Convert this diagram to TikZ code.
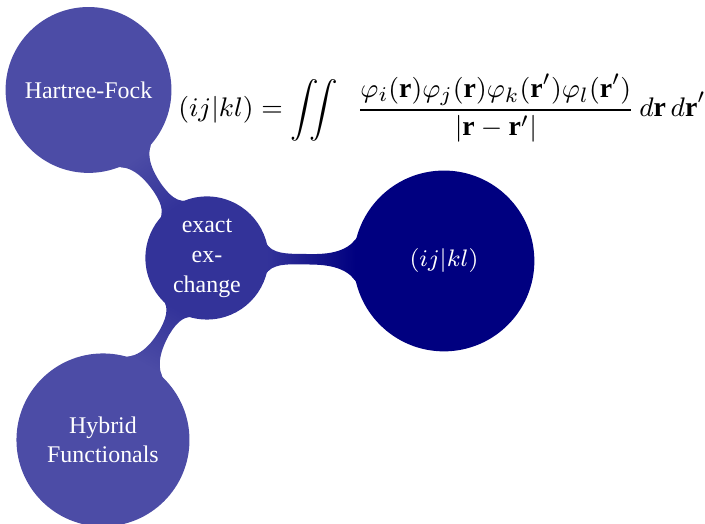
\documentclass[tikz,border=0pt]{standalone}
\usepackage{fontspec}
\setmainfont{Liberation Serif}
\usepackage{amsmath,amssymb}
\usetikzlibrary{mindmap,positioning}

\definecolor{navy}{RGB}{0,0,128}

\tikzset{
  topic/.style={concept,text=white,font=\footnotesize,inner sep=0pt},
}

\begin{document}
\begin{tikzpicture}
\useasboundingbox (0,0) rectangle (8.291,6.162);
\begin{scope}[mindmap]
  % concepts
  \node[topic,concept color=navy!80,minimum size=40pt,text width=26pt,font=\fontsize{8}{10}\selectfont] (xc) at (2.434,3.128) {exact\\ex-\\change};
  \node[topic,concept color=navy!70,minimum size=54.3pt,text width=48pt] (hf) at (1.041,5.104) {Hartree-Fock};
  \node[topic,concept color=navy!70,minimum size=56.7pt,text width=48pt] (hyb) at (1.211,0.988) {Hybrid Functionals};
  \node[topic,concept color=navy,minimum size=59.3pt,text width=48pt] (eri) at (5.221,3.093) {$(ij|kl)$};
  % connection bars
  \path (xc) to[circle connection bar switch color=from (navy!80) to (navy!70)] (hf);
  \path (xc) to[circle connection bar switch color=from (navy!80) to (navy!70)] (hyb);
  \path (xc) to[circle connection bar switch color=from (navy!80) to (navy)] (eri);
\end{scope}
% the two-electron integral
\node[font=\fontsize{9.3}{11}\selectfont] (eq) at (5.198,4.892)
  {$\displaystyle (ij|kl) = \iint\enspace \frac{\varphi_i(\mathbf{r})\varphi_j(\mathbf{r})\varphi_k(\mathbf{r}')\varphi_l(\mathbf{r}')}{|\mathbf{r}-\mathbf{r}'|}\,d\mathbf{r}\,d\mathbf{r}'$};
\end{tikzpicture}
\end{document}
